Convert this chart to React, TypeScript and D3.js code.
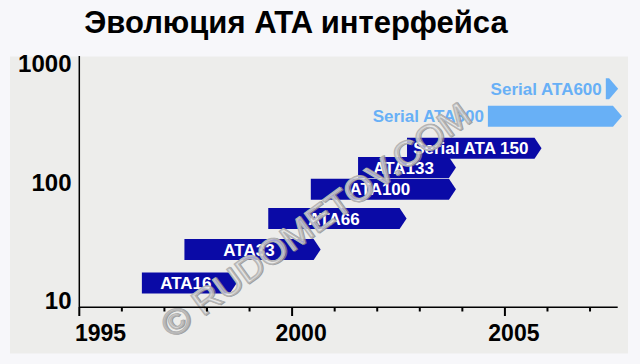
import React from "react";
import * as d3 from "d3";

const TITLE = "Эволюция ATA интерфейса";
const barNames = ["ATA16", "ATA33", "ATA66", "ATA100", "ATA133", "Serial ATA 150", "Serial ATA300", "Serial ATA600"];
const startYears = [1996.47, 1997.47, 1999.44, 2000.44, 2001.55, 2002.7, 2004.6, 2007.37];
const endYears = [1998.7, 2000.67, 2002.69, 2003.85, 2003.85, 2005.86, 2007.75, 2007.66];
// vertical position of each arrow on the log axis
const levels = [14.5, 27.8, 50.8, 89.8, 137, 200, 372, 635];
const future = [false, false, false, false, false, false, true, true];
const yTicks = [10, 100, 1000];
const yearLabels = [1995, 2000, 2005];
const minorYears = [1996, 1997, 1998, 1999, 2001, 2002, 2003, 2004, 2006, 2007];
const majorYears = [1995, 2000, 2005];
const WATERMARK = "© RUDOMETOV.COM";

const W = 640;
const H = 364;
const FONT = "'Liberation Sans', Arial, Helvetica, sans-serif";
const DARK = "#0a0aa6";
const LIGHT = "#68b0f6";

export default function App() {
  const x = d3.scaleLinear().domain([1995, 2007.65]).range([79.3, 617.7]);
  const y = d3.scaleLog().domain([9.07, 1203]).range([307, 56]);
  const barH = 21;

  const arrow = (x0: number, x1: number, yc: number, tip: number) => {
    const p = d3.path();
    const top = yc - barH / 2;
    const bot = yc + barH / 2;
    const body = Math.max(x0, x1 - tip);
    p.moveTo(x0, top);
    p.lineTo(body, top);
    p.lineTo(x1, yc);
    p.lineTo(body, bot);
    p.lineTo(x0, bot);
    p.closePath();
    return p.toString();
  };

  const order = d3.range(barNames.length);

  return (
    <svg width={W} height={H} style={{ position: "absolute", left: 0, top: 0 }} fontFamily={FONT}>
      <rect x={0} y={0} width={W} height={H} fill="#f7f7fa" />
      <rect x={10} y={56.5} width={618} height={297} fill="#ededeb" />
      <text x={296} y={33} textAnchor="middle" fontSize={31} fontWeight="bold" fill="#000">
        {TITLE}
      </text>

      {/* bars */}
      {order.map((i) => {
        const x0 = x(startYears[i]);
        const x1 = x(endYears[i]);
        const yc = y(levels[i]);
        const tip = future[i] ? 9 : 7;
        return (
          <g key={barNames[i]}>
            <path d={arrow(x0, x1, yc, tip)} fill={future[i] ? LIGHT : DARK} />
            {future[i] ? (
              <text x={x0 - 4} y={yc} dy="0.36em" textAnchor="end" fontSize={17} fontWeight="bold" fill={LIGHT}>
                {barNames[i]}
              </text>
            ) : (
              <text x={(x0 + x1 - tip) / 2} y={yc} dy="0.36em" textAnchor="middle" fontSize={17} fontWeight="bold" fill="#fff">
                {barNames[i]}
              </text>
            )}
          </g>
        );
      })}

      {/* watermark */}
      <g transform="translate(172,339) rotate(-36)" fontSize={35} fontFamily={FONT}>
        <text x={1} y={1} fill="none" stroke="#8a8a8a" strokeWidth={1.4} strokeOpacity={0.8} textLength={372} lengthAdjust="spacingAndGlyphs">
          {WATERMARK}
        </text>
        <text fill="#e8e8e8" fillOpacity={0.7} stroke="#b4b4b4" strokeWidth={1.2} textLength={372} lengthAdjust="spacingAndGlyphs">
          {WATERMARK}
        </text>
      </g>

      {/* axes */}
      <line x1={x(1995)} x2={x(1995)} y1={56} y2={307} stroke="#000" strokeWidth={1.5} />
      <line x1={x(1995)} x2={x.range()[1]} y1={307.3} y2={307.3} stroke="#000" strokeWidth={1.5} />
      {minorYears.map((yr) => (
        <line key={"m" + yr} x1={x(yr)} x2={x(yr)} y1={307} y2={311.5} stroke="#000" strokeWidth={2} />
      ))}
      {majorYears.map((yr) => (
        <line key={"M" + yr} x1={x(yr)} x2={x(yr)} y1={307} y2={316} stroke="#000" strokeWidth={2} />
      ))}
      {yearLabels.map((yr) => (
        <text key={"l" + yr} x={Math.max(x(yr) + 9, 100.5)} y={341} textAnchor="middle" fontSize={23} fontWeight="bold" fill="#000">
          {yr}
        </text>
      ))}
      {yTicks.map((v) => (
        <text key={"y" + v} x={71.5} y={y(v) + 7} textAnchor="end" fontSize={24} fontWeight="bold" fill="#000">
          {v}
        </text>
      ))}
    </svg>
  );
}
